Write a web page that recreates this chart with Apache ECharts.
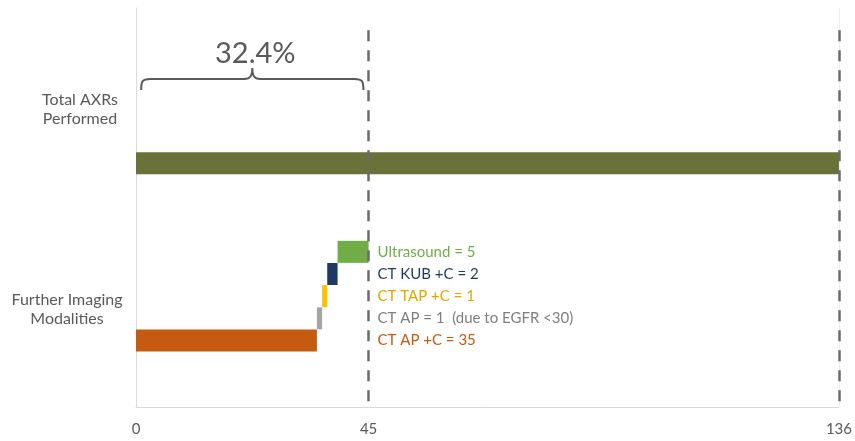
<!DOCTYPE html>
<html>
<head>
<meta charset="utf-8">
<script src="https://cdn.jsdelivr.net/npm/echarts@6/dist/echarts.min.js"></script>
<style>
  html, body { margin: 0; padding: 0; background: #fff; }
  #chart { width: 855px; height: 441px; }
</style>
</head>
<body>
<div id="chart"></div>
<script>
    // categories shown on the left
    var categories = ['Total AXRs\nPerformed', 'Further Imaging\nModalities'];
    var totalAXRs = 136;
    // waterfall steps, bottom to top
    var modalityLabels = ['CT AP +C = 35', 'CT AP = 1  (due to EGFR <30)', 'CT TAP +C = 1', 'CT KUB +C = 2', 'Ultrasound = 5'];
    var modalityValues = [35, 1, 1, 2, 6];
    var modalityColors = ['#C55A11', '#A5A5A5', '#FFC000', '#203864', '#70AD47'];
    var labelColors = ['#C55A11', '#7F7F7F', '#E3A600', '#1F3A5F', '#70AD47'];
    var xTicks = [0, 45, 136];
    var cutoffs = [45, 136];
    var braceRange = [1, 44];
    var percentText = '32.4%';

    var chart_main = function () {
        var myChart = echarts.init(document.getElementById('chart'));
        var grey = '#595959';
        var font = 'Lato';

        // rows of the category axis (index 0 = bottom)
        var rows = [];
        for (var i = 0; i <= 18; i++) rows.push(String(i));
        var totalRow = 11;
        var firstModalityRow = 3;

        var baseData = rows.map(function () { return '-'; });
        var valueData = rows.map(function () { return '-'; });
        baseData[totalRow] = 0;
        valueData[totalRow] = { value: totalAXRs, itemStyle: { color: '#6A7139' } };
        var acc = 0;
        modalityValues.forEach(function (v, k) {
            baseData[firstModalityRow + k] = acc;
            valueData[firstModalityRow + k] = { value: v, itemStyle: { color: modalityColors[k] } };
            acc += v;
        });

        var labelPoints = modalityLabels.map(function (t, k) {
            return {
                coord: [cutoffs[0], rows[firstModalityRow + k]],
                label: { formatter: t, color: labelColors[k] }
            };
        });

        var dashLines = cutoffs.map(function (c) {
            return [{ coord: [c, '17'] }, { coord: [c, '0'] }];
        });

        var option = {
            animation: false,
            grid: {
                left: 136,
                right: 16,
                top: 8,
                bottom: 34,
                containLabel: false
            },
            xAxis: {
                type: 'value',
                min: 0,
                max: 136,
                axisLine: { show: true, lineStyle: { color: '#D9D9D9', width: 1 } },
                axisTick: { show: false },
                splitLine: { show: false },
                axisLabel: {
                    customValues: xTicks,
                    color: grey,
                    fontFamily: font,
                    fontSize: 15,
                    margin: 15
                }
            },
            yAxis: [{
                type: 'category',
                data: rows,
                boundaryGap: false,
                axisLine: { show: true, lineStyle: { color: '#D9D9D9', width: 1 } },
                axisTick: { show: false },
                axisLabel: { show: false },
                splitLine: { show: false }
            }, {
                type: 'category',
                data: rows,
                position: 'right',
                boundaryGap: false,
                axisLine: { show: true, lineStyle: { color: '#EEEEEE', width: 1 } },
                axisTick: { show: false },
                axisLabel: { show: false },
                splitLine: { show: false }
            }],
            graphic: [{
                type: 'text',
                x: 80, y: 109,
                style: {
                    text: categories[0],
                    fill: grey, font: '16px Lato', lineHeight: 19,
                    align: 'center', verticalAlign: 'middle'
                }
            }, {
                type: 'text',
                x: 67, y: 309,
                style: {
                    text: categories[1],
                    fill: grey, font: '16px Lato', lineHeight: 19,
                    align: 'center', verticalAlign: 'middle'
                }
            }],
            series: [{
                type: 'bar',
                stack: 'w',
                barWidth: 22,
                silent: true,
                itemStyle: { color: 'transparent' },
                data: baseData
            }, {
                type: 'bar',
                stack: 'w',
                barWidth: 22,
                data: valueData,
                markLine: {
                    silent: true,
                    symbol: 'none',
                    label: { show: false },
                    lineStyle: { type: [11, 9], width: 2.5, color: '#6B6B6B' },
                    data: dashLines
                },
                markPoint: {
                    symbol: 'circle',
                    symbolSize: 0,
                    label: {
                        show: true,
                        position: 'right',
                        distance: 9,
                        fontFamily: font,
                        fontSize: 15
                    },
                    data: labelPoints
                }
            }, {
                // brace + percentage above the first 44 units
                type: 'custom',
                silent: true,
                data: [[braceRange[0], '18', braceRange[1]]],
                renderItem: function (params, api) {
                    var xl = api.coord([api.value(0), 0])[0];
                    var xr = api.coord([api.value(2), 0])[0];
                    var xm = (xl + xr) / 2;
                    var top = params.coordSys.y;
                    var yl = top + 71, yp = top + 60, yb = top + 82;
                    var d = 'M' + xl + ',' + yb +
                        ' C' + xl + ',' + (yl + 2) + ' ' + (xl + 1) + ',' + yl + ' ' + (xl + 9) + ',' + yl +
                        ' L' + (xm - 8) + ',' + yl +
                        ' C' + (xm - 2) + ',' + yl + ' ' + xm + ',' + (yl - 3) + ' ' + xm + ',' + yp +
                        ' C' + xm + ',' + (yl - 3) + ' ' + (xm + 2) + ',' + yl + ' ' + (xm + 8) + ',' + yl +
                        ' L' + (xr - 9) + ',' + yl +
                        ' C' + (xr - 1) + ',' + yl + ' ' + xr + ',' + (yl + 2) + ' ' + xr + ',' + yb;
                    return {
                        type: 'group',
                        children: [{
                            type: 'path',
                            shape: { pathData: d },
                            style: { fill: 'none', stroke: grey, lineWidth: 2 }
                        }, {
                            type: 'text',
                            style: {
                                text: percentText,
                                x: xm + 3, y: top + 46,
                                fill: grey,
                                font: '29px Lato',
                                align: 'center',
                                verticalAlign: 'middle'
                            }
                        }]
                    };
                }
            }]
        };
        myChart.setOption(option);
    };
    chart_main();
</script>
</body>
</html>
